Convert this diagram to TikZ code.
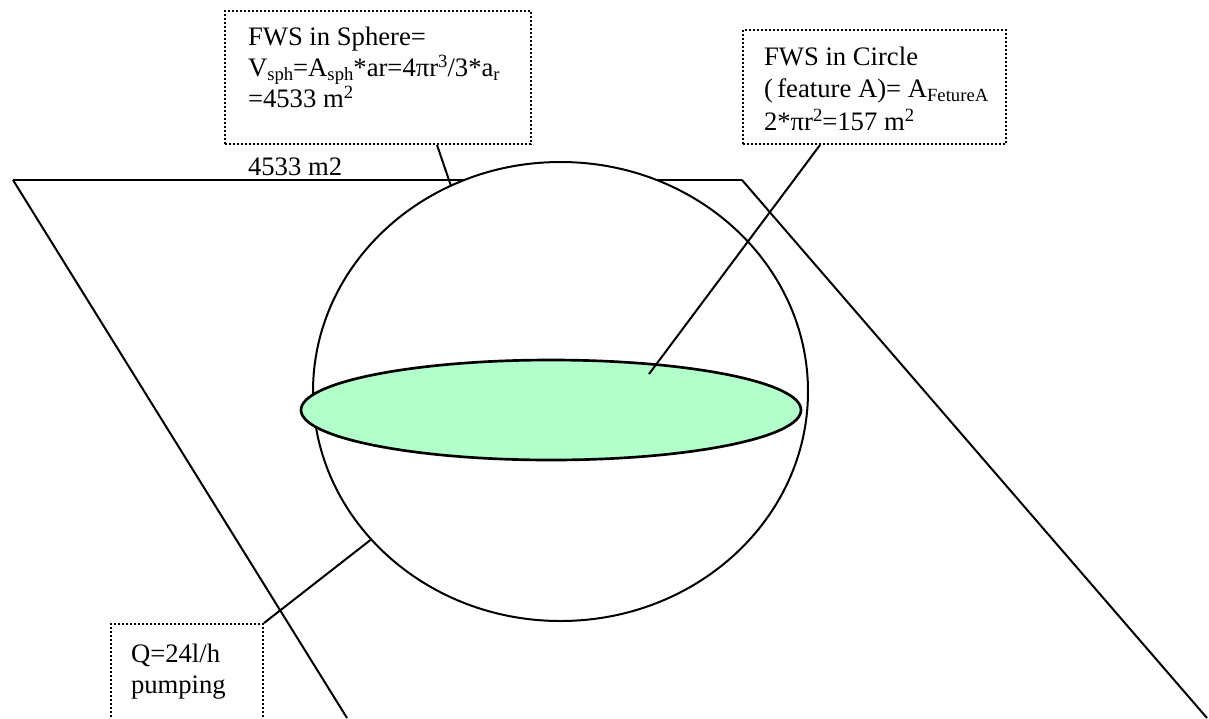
\documentclass[tikz,border=0pt]{standalone}
\usepackage{fontspec}
\setmainfont{Liberation Serif}
\usetikzlibrary{shapes.geometric}
\definecolor{featgreen}{RGB}{179,255,204}
\newcommand{\lowtext}[1]{\raisebox{-3.5pt}{\fontsize{14}{14}\selectfont #1}}
\newcommand{\hightext}[1]{\raisebox{6.5pt}{\fontsize{14}{14}\selectfont #1}}
\tikzset{
  infobox/.style={draw,dash pattern=on 1.5pt off 1.5pt,anchor=north west,inner sep=0pt},
  boxline/.style={anchor=base west,inner sep=0pt,font=\fontsize{20}{24}\selectfont},
}
\begin{document}
\begin{tikzpicture}[x=0.75pt,y=-0.75pt,line width=1.5pt]
\useasboundingbox (0,0) rectangle (1209,718);
\clip (0,0) rectangle (1209,718);
% slab
\draw (13,180) -- (742,180);
\draw (13,180) -- (347,718);
\draw (742,180) -- (1207,718);
% sphere with the feature circle
\node[ellipse,draw,fill=white,minimum width=371.25pt,minimum height=344.25pt,inner sep=0pt] (sphere) at (560.5,391.5) {};
\node[ellipse,draw,line width=2pt,fill=featgreen,minimum width=375pt,minimum height=75pt,inner sep=0pt] (disc) at (551,410) {};
\coordinate (featA) at (649,374);
% boxes
\node[infobox,minimum width=229.5pt,minimum height=99.75pt] (spherebox) at (224,10) {};
\node[boxline] (sphereA) at (247,45) {FWS in Sphere=};
\node[boxline] (sphereB) at (247,76) {V\lowtext{sph}=A\lowtext{sph}*ar=4πr\hightext{3}/3*a\lowtext{r}};
\node[boxline] (sphereC) at (247,107) {=4533 m\hightext{2}};
\node[boxline] (slabarea) at (247,175) {4533 m2};
\node[infobox,minimum width=197.25pt,minimum height=85.5pt] (circlebox) at (742,29) {};
\node[boxline] (circleA) at (763,65) {FWS in Circle};
\node[boxline] (circleB) at (763,97) {(\,feature A)= A\lowtext{FetureA}};
\node[boxline] (circleC) at (763,130) {2*πr\hightext{2}=157 m\hightext{2}};
\node[infobox,minimum width=114pt,minimum height=87.75pt] (pumpbox) at (110,623) {};
\node[boxline] (pumpA) at (130,662) {Q=24l/h};
\node[boxline] (pumpB) at (130,693) {pumping};
% connectors
\draw ([xshift=159.75pt]spherebox.south west) -- (sphere.118);
\draw ([xshift=58.5pt]circlebox.south west) -- (featA);
\draw (pumpbox.north east) -- (sphere.218);
\end{tikzpicture}
\end{document}
